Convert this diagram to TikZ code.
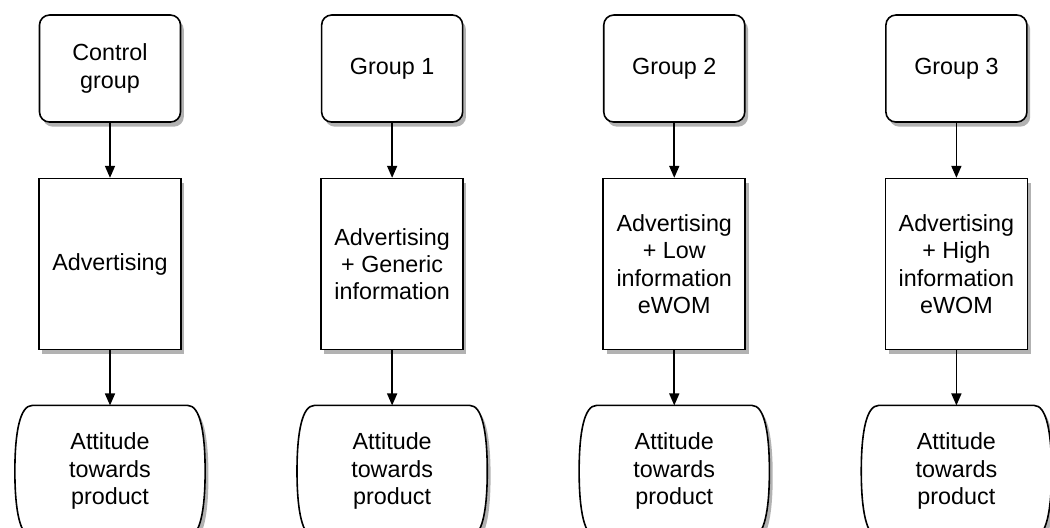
\documentclass[tikz,border=0pt]{standalone}
\usepackage{fontspec}
\setmainfont{Liberation Sans}
\usepackage{tikz}
\usetikzlibrary{arrows.meta, shadows, positioning, backgrounds}

\begin{document}
\begin{tikzpicture}[
  every node/.style={font=\fontsize{17.5}{20.5}\selectfont, align=center, line width=1.2pt},
  boxshadow/.style={drop shadow={shadow xshift=2.5pt, shadow yshift=-3.5pt, fill=black, opacity=0.3}},
  groupbox/.style={draw, rounded corners=7.5pt, minimum width=105.75pt, minimum height=80.25pt, fill=white, boxshadow},
  treatbox/.style={draw, minimum width=106.5pt, minimum height=128.25pt, fill=white, boxshadow},
  attbox/.style={minimum width=115.5pt, minimum height=97.5pt},
  attline/.style={draw, line width=1.2pt, fill=white, boxshadow},
  flow/.style={-{Triangle[length=9pt,width=7.5pt]}, line width=1.2pt}
]

\useasboundingbox (0,0) rectangle (787.5pt,-396pt);

\coordinate(O1) at (0,0);
\node[groupbox] (cg) at (82.5pt,-51.4pt) {Control\\group};
\node[groupbox] (g1) at (294.1pt,-51.4pt) {Group 1};
\node[groupbox] (g2) at (505.7pt,-51.4pt) {Group 2};
\node[groupbox] (g3) at (717.3pt,-51.4pt) {Group 3};

\node[treatbox, below=41.25pt of cg] (ca) {Advertising};
\node[treatbox, below=41.25pt of g1] (a1) {Advertising\\+ Generic\\information};
\node[treatbox, below=41.25pt of g2] (a2) {Advertising\\+ Low\\information\\eWOM};
\node[treatbox, below=41.25pt of g3] (a3) {Advertising\\+ High\\information\\eWOM};

\node[attbox, below=41.25pt of ca] (ct) {Attitude\\towards\\product};
\node[attbox, below=41.25pt of a1] (t1) {Attitude\\towards\\product};
\node[attbox, below=41.25pt of a2] (t2) {Attitude\\towards\\product};
\node[attbox, below=41.25pt of a3] (t3) {Attitude\\towards\\product};

% bulging outline of the attitude boxes
\begin{scope}[on background layer]
\foreach \n in {ct,t1,t2,t3}
  \path[attline] (\n.north west) -- (\n.north east)
    .. controls +(9pt,0) and +(0,30pt) .. ([xshift=13pt]\n.east)
    .. controls +(0,-30pt) and +(9pt,0) .. (\n.south east)
    -- (\n.south west)
    .. controls +(-9pt,0) and +(0,-30pt) .. ([xshift=-13pt]\n.west)
    .. controls +(0,30pt) and +(-9pt,0) .. cycle;
\end{scope}

\draw[flow] (cg) -- (ca);
\draw[flow] (g1) -- (a1);
\draw[flow] (g2) -- (a2);
\draw[flow] (g3) -- (a3);
\draw[flow] (ca) -- (ct);
\draw[flow] (a1) -- (t1);
\draw[flow] (a2) -- (t2);
\draw[flow] (a3) -- (t3);
\end{tikzpicture}
\end{document}
